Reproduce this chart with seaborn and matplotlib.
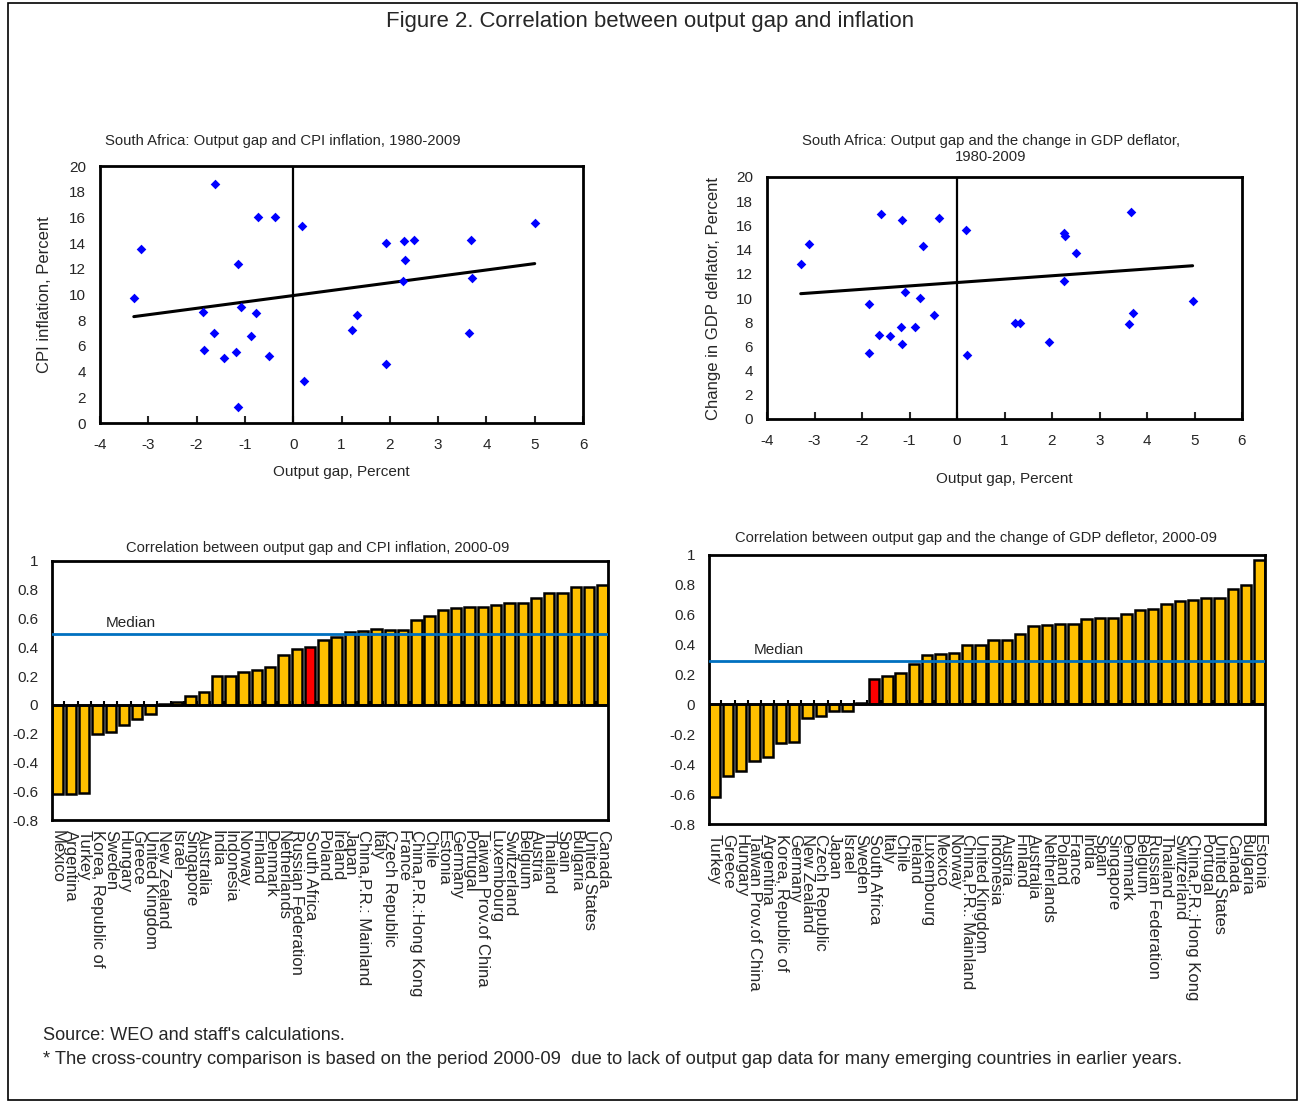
import numpy as np
import matplotlib.pyplot as plt
import seaborn as sns
from matplotlib.patches import Rectangle

sns.set_theme(style="white")
plt.rcParams['font.family'] = ['Liberation Sans', 'DejaVu Sans']
plt.rcParams['axes.unicode_minus'] = False

# South Africa 1980-2009: output gap vs CPI inflation
gap_cpi = [-1.61, -0.72, -0.38, 0.18, -3.15, -1.15, -3.30, -1.87, -1.09, -0.78,
           -1.64, -0.87, -1.84, -1.44, -1.19, -0.51, -1.15, 0.22, 1.93, 2.30,
           2.50, 2.32, 2.27, 3.68, 3.70, 3.64, 1.32, 1.22, 1.93, 5.00]
cpi = [18.6, 16.06, 16.06, 15.34, 13.55, 12.38, 9.74, 8.65, 9.04, 8.55,
       6.99, 6.74, 5.67, 5.08, 5.54, 5.21, 1.27, 3.29, 14.02, 14.17,
       14.25, 12.69, 11.06, 14.25, 11.30, 6.99, 8.42, 7.20, 4.61, 15.57]

# South Africa 1980-2009: output gap vs change in GDP deflator
# (one year lies above the 20% axis limit, as in the original chart)
gap_defl = [-3.29, -3.12, -1.61, -1.15, -0.37, -0.72, 0.18, -1.10, -1.85, -0.77,
            -0.49, -1.17, -0.89, -1.64, -1.42, -1.15, -1.85, 0.21, 2.26, 2.28,
            2.51, 2.26, 3.66, 4.96, 3.70, 3.63, 1.22, 1.32, 1.93, 1.93]
defl = [12.84, 14.49, 16.91, 16.42, 16.64, 14.32, 15.62, 10.52, 9.53, 10.03,
        8.62, 7.63, 7.63, 6.97, 6.89, 6.23, 5.45, 5.32, 15.37, 15.10,
        13.72, 11.43, 17.13, 9.78, 8.76, 7.88, 7.96, 7.96, 6.34, 27.5]

# cross-country correlations, 2000-09
cpi_countries = ["Mexico", "Argentina", "Turkey", "Korea, Republic of", "Sweden",
                 "Hungary", "Greece", "United Kingdom", "New Zealand", "Israel",
                 "Singapore", "Australia", "India", "Indonesia", "Norway", "Finland",
                 "Denmark", "Netherlands", "Russian Federation", "South Africa",
                 "Poland", "Ireland", "Japan", "China,P.R.: Mainland", "Italy",
                 "Czech Republic", "France", "China,P.R.:Hong Kong", "Chile",
                 "Estonia", "Germany", "Portugal", "Taiwan Prov.of China",
                 "Luxembourg", "Switzerland", "Belgium", "Austria", "Thailand",
                 "Spain", "Bulgaria", "United States", "Canada"]
cpi_corr = [-0.62, -0.62, -0.615, -0.20, -0.19, -0.14, -0.10, -0.065, 0.005, 0.02,
            0.06, 0.09, 0.20, 0.20, 0.23, 0.24, 0.26, 0.35, 0.39, 0.40,
            0.45, 0.47, 0.505, 0.515, 0.525, 0.52, 0.52, 0.59, 0.62,
            0.66, 0.67, 0.68, 0.68, 0.695, 0.71, 0.71, 0.74, 0.78,
            0.78, 0.82, 0.82, 0.83]
cpi_median = 0.49

defl_countries = ["Turkey", "Greece", "Hungary", "Taiwan Prov.of China", "Argentina",
                  "Korea, Republic of", "Germany", "New Zealand", "Czech Republic",
                  "Japan", "Israel", "Sweden", "South Africa", "Italy", "Chile",
                  "Ireland", "Luxembourg", "Mexico", "Norway", "China,P.R.: Mainland",
                  "United Kingdom", "Indonesia", "Austria", "Finland", "Australia",
                  "Netherlands", "Poland", "France", "India", "Spain", "Singapore",
                  "Denmark", "Belgium", "Russian Federation", "Thailand",
                  "Switzerland", "China,P.R.:Hong Kong", "Portugal", "United States",
                  "Canada", "Bulgaria", "Estonia"]
defl_corr = [-0.62, -0.48, -0.445, -0.38, -0.35, -0.26, -0.25, -0.09, -0.08,
             -0.045, -0.045, 0.01, 0.17, 0.19, 0.21, 0.27, 0.33, 0.34, 0.345, 0.40,
             0.40, 0.43, 0.43, 0.47, 0.525, 0.53, 0.54, 0.54, 0.575, 0.58, 0.58,
             0.605, 0.63, 0.64, 0.67, 0.69, 0.70, 0.71, 0.71, 0.77, 0.80, 0.965]
defl_median = 0.29

W, H = 1303, 1102
fig = plt.figure(figsize=(W / 100, H / 100), dpi=100)


def box(l, t, r, b):
    return [l / W, 1 - b / H, (r - l) / W, (b - t) / H]


def ftext(x, y, s, **kw):
    fig.text(x / W, 1 - y / H, s, **kw)


def scatter_panel(ax, x, y, ylabel, xlpad, ylpad):
    sns.regplot(x=x, y=y, ax=ax, ci=None, marker='D', color='#0000ff',
                scatter_kws={'s': 24, 'linewidths': 0, 'zorder': 3, 'alpha': 1},
                line_kws={'color': 'black', 'lw': 2.2})
    ax.axvline(0, color='black', lw=1.6, zorder=2)
    ax.set_xlim(-4, 6)
    ax.set_ylim(0, 20)
    ax.set_xticks(range(-4, 7))
    ax.set_yticks(range(0, 21, 2))
    ax.tick_params(axis='x', direction='in', length=5, width=1.5, pad=11,
                   labelsize=11, bottom=True)
    ax.tick_params(axis='y', length=0, pad=10, labelsize=11)
    for sp in ax.spines.values():
        sp.set_color('black')
        sp.set_linewidth(2)
    ax.set_xlabel('Output gap, Percent', fontsize=11, labelpad=xlpad)
    ax.set_ylabel(ylabel, fontsize=12, labelpad=ylpad)


def bar_panel(ax, countries, values, median, mx):
    pal = {c: ('#ff0000' if c == 'South Africa' else '#ffc000') for c in countries}
    sns.barplot(x=countries, y=values, hue=countries, palette=pal, legend=False,
                saturation=1, edgecolor='black', linewidth=1.8, width=0.78, ax=ax)
    n = len(countries)
    ax.axhline(0, color='black', lw=2, zorder=3)
    ax.vlines(np.arange(1, n) - 0.5, 0, 0.028, color='black', lw=1.5, zorder=3)
    ax.axhline(median, color='#0070c0', lw=2, zorder=4)
    ax.annotate('Median', xy=(mx, median), xycoords=('axes fraction', 'data'),
                xytext=(0, 3), textcoords='offset points', va='bottom', ha='left',
                fontsize=11)
    ax.set_xlim(-0.42, n - 0.58)
    ax.set_ylim(-0.8, 1)
    ticks = np.round(np.arange(-0.8, 1.01, 0.2), 1) + 0.0
    ax.set_yticks(ticks)
    ax.set_yticklabels([f"{t:g}" for t in ticks])
    ax.tick_params(axis='y', direction='in', length=4, width=1.5, pad=10, labelsize=11)
    ax.tick_params(axis='x', length=0, pad=7, labelsize=12)
    for lbl in ax.get_xticklabels():
        lbl.set_rotation(-90)
        lbl.set_ha('center')
        lbl.set_va('top')
    for sp in ax.spines.values():
        sp.set_color('black')
        sp.set_linewidth(2)
    ax.set_xlabel('')
    ax.set_ylabel('')


ax1 = fig.add_axes(box(100, 166, 583, 423))
scatter_panel(ax1, gap_cpi, cpi, 'CPI inflation, Percent', 9, 12)

ax2 = fig.add_axes(box(767, 177, 1242, 419))
scatter_panel(ax2, gap_defl, defl, 'Change in GDP deflator, Percent', 17, 11)

ax3 = fig.add_axes(box(52, 561, 608, 820))
bar_panel(ax3, cpi_countries, cpi_corr, cpi_median, 0.097)

ax4 = fig.add_axes(box(709, 555, 1265, 824))
bar_panel(ax4, defl_countries, defl_corr, defl_median, 0.081)

ftext(650, 21, 'Figure 2. Correlation between output gap and inflation',
      ha='center', va='center', fontsize=15.9)
ftext(283, 141, 'South Africa: Output gap and CPI inflation, 1980-2009',
      ha='center', va='center', fontsize=10.7)
ftext(991, 149, 'South Africa: Output gap and the change in GDP deflator,\n1980-2009',
      ha='center', va='center', fontsize=10.7, linespacing=1.25)
ftext(318, 548, 'Correlation between output gap and CPI inflation, 2000-09',
      ha='center', va='center', fontsize=10.6)
ftext(976, 538, 'Correlation between output gap and the change of GDP defletor, 2000-09',
      ha='center', va='center', fontsize=10.6)
ftext(43, 1035, "Source: WEO and staff's calculations.",
      ha='left', va='center', fontsize=13.1)
ftext(43, 1060, "* The cross-country comparison is based on the period 2000-09  due to lack "
      "of output gap data for many emerging countries in earlier years.",
      ha='left', va='center', fontsize=13.2)

fig.patches.append(Rectangle((8 / W, 2 / H), 1289 / W, 1097 / H, transform=fig.transFigure,
                             fill=False, edgecolor='black', lw=1.2))

fig.savefig('out.png', dpi=100)
